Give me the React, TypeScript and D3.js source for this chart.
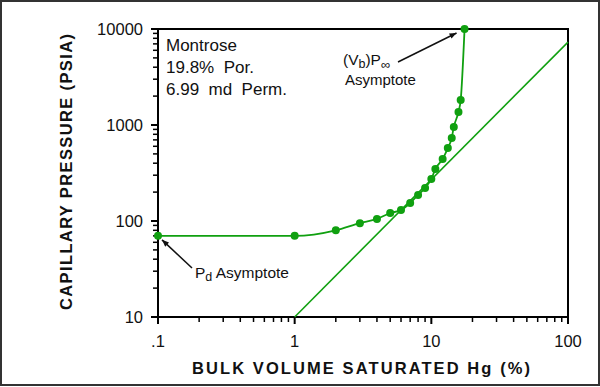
import React from "react";
import { scaleLog, line, curveMonotoneX } from "d3";

// capillary pressure curve (bulk volume % vs psia)
const bulkVolume = [0.1, 1, 2, 3, 4, 5, 6, 7, 8, 9, 10, 10.7, 12.1, 13.2, 14.1, 14.6, 15.8, 16.4, 17.5];
const pressure = [70, 70, 80, 95, 105, 121, 130, 154, 187, 221, 274, 348, 443, 575, 733, 955, 1365, 1820, 10000];

// straight reference line
const refX = [1, 100];
const refY = [10, 7300];

const xTicks = [0.1, 1, 10, 100];
const xTickLabels = [".1", "1", "10", "100"];
const yTicks = [10, 100, 1000, 10000];
const yTickLabels = ["10", "100", "1000", "10000"];

const infoLines = ["Montrose", "19.8%  Por.", "6.99  md  Perm."];

const GREEN = "#10a010";
const FONT = "'Liberation Sans', Arial, Helvetica, sans-serif";

const App = () => {
    const width = 600;
    const height = 387;
    const left = 158, right = 568, top = 29, bottom = 317;

    const x = scaleLog().domain([0.1, 100]).range([left, right]);
    const y = scaleLog().domain([10, 10000]).range([bottom, top]);

    const pts = bulkVolume.map((v, i) => [x(v), y(pressure[i])] as [number, number]);
    const curve = line().curve(curveMonotoneX)(pts);

    // minor ticks 2..9 in every decade
    const minorX: number[] = [];
    for (let d = 0.1; d < 100; d *= 10) for (let k = 2; k <= 9; k++) minorX.push(d * k);
    const minorY: number[] = [];
    for (let d = 10; d < 10000; d *= 10) for (let k = 2; k <= 9; k++) minorY.push(d * k);

    const topPt = pts[pts.length - 1];
    const pdPt = pts[0];

    return <svg width={width} height={height} viewBox={`0 0 ${width} ${height}`}
        style={{ position: "absolute", left: 0, top: 0, background: "#fff" }}
        fontFamily={FONT}>
        <defs>
            <marker id="arr" viewBox="0 0 10 10" refX="10" refY="5" markerWidth="9" markerHeight="7" orient="auto" markerUnits="userSpaceOnUse">
                <path d="M0,1 L10,5 L0,9 z" fill="#111" />
            </marker>
        </defs>
        <rect x={1} y={1} width={width - 2} height={height - 3} fill="#fff" stroke="#333" strokeWidth={2} />

        {/* frame */}
        <rect x={left} y={top} width={right - left} height={bottom - top} fill="none" stroke="#000" strokeWidth={2} />

        {/* x ticks */}
        {minorX.map((t, i) => (
            <line key={"mx" + i} x1={x(t)} x2={x(t)} y1={bottom} y2={bottom + 5} stroke="#000" strokeWidth={1.5} />
        ))}
        {xTicks.map((t, i) => (
            <g key={"x" + i}>
                <line x1={x(t)} x2={x(t)} y1={bottom} y2={bottom + 7} stroke="#000" strokeWidth={2} />
                <text x={x(t)} y={347} textAnchor="middle" fontSize={16.5} fill="#111">{xTickLabels[i]}</text>
            </g>
        ))}

        {/* y ticks */}
        {minorY.map((t, i) => (
            <line key={"my" + i} x1={left - 5} x2={left} y1={y(t)} y2={y(t)} stroke="#000" strokeWidth={1.5} />
        ))}
        {yTicks.map((t, i) => (
            <g key={"y" + i}>
                <line x1={left - 7} x2={left} y1={y(t)} y2={y(t)} stroke="#000" strokeWidth={2} />
                <text x={143} y={y(t) + 6} textAnchor="end" fontSize={16.5} fill="#111">{yTickLabels[i]}</text>
            </g>
        ))}

        {/* axis titles */}
        <text x={361} y={374} textAnchor="middle" fontSize={16.5} fontWeight="bold" textLength={338} lengthAdjust="spacing" fill="#111">
            BULK  VOLUME  SATURATED  Hg  (%)
        </text>
        <text transform={`translate(72,172) rotate(-90)`} textAnchor="middle" fontSize={16.5} fontWeight="bold" textLength={276} lengthAdjust="spacing" fill="#111">
            CAPILLARY  PRESSURE  (PSIA)
        </text>

        {/* sample info */}
        {infoLines.map((s, i) => (
            <text key={s} x={166} y={51 + i * 22} fontSize={17} fill="#111" style={{ whiteSpace: "pre" }}>{s}</text>
        ))}

        {/* data */}
        <line x1={x(refX[0])} y1={y(refY[0])} x2={x(refX[1])} y2={y(refY[1])} stroke={GREEN} strokeWidth={1.6} />
        <path d={curve ?? ""} fill="none" stroke={GREEN} strokeWidth={1.8} />
        {pts.map((p, i) => (
            <circle key={i} cx={p[0]} cy={p[1]} r={4} fill={GREEN} />
        ))}

        {/* annotations */}
        <text x={343} y={65} fontSize={15.5} fill="#111">
            (V<tspan dy={3} fontSize={12.5}>b</tspan><tspan dy={-3}>)P</tspan><tspan dy={4} fontSize={13}>∞</tspan>
        </text>
        <text x={345} y={85} fontSize={15} fill="#111">Asymptote</text>
        <line x1={398} y1={62} x2={topPt[0] - 8} y2={topPt[1] + 4} stroke="#111" strokeWidth={1.5} markerEnd="url(#arr)" />

        <text x={195} y={278} fontSize={15.5} fill="#111">
            P<tspan dy={3} fontSize={12.5}>d</tspan><tspan dy={-3}> Asymptote</tspan>
        </text>
        <line x1={192} y1={268} x2={pdPt[0] + 4} y2={pdPt[1] + 4} stroke="#111" strokeWidth={1.5} markerEnd="url(#arr)" />
    </svg>
}

export default App;
